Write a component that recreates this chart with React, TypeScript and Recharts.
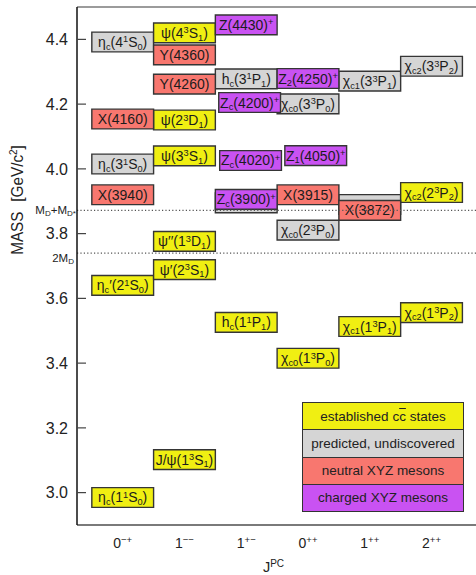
import React from 'react';
import { ComposedChart, XAxis, YAxis, ReferenceArea, ReferenceLine, Legend } from 'recharts';

const FONT = "'Liberation Sans', Arial, Helvetica, sans-serif";

// ---------- data ----------
const jpcCategories = ['0-+', '1--', '1+-', '0++', '1++', '2++'];
const jpcSpin = ['0', '1', '1', '0', '1', '2'];
const jpcPC = ['\u2212+', '\u2212\u2212', '+\u2212', '++', '++', '++'];
const massTicks = [3.0, 3.2, 3.4, 3.6, 3.8, 4.0, 4.2, 4.4];
const massRange = [2.9, 4.5];

const thresholds = [
  { name: 'M_D+M_{D*}', mass: 3.872 },
  { name: '2M_D', mass: 3.74 },
];

type State = { name: string; jpc: string; mass: number; show?: boolean };

const predictedStates: State[] = [
  { name: '\u03b7_c(3^1S_0)', jpc: '0-+', mass: 4.015 },
  { name: '\u03b7_c(4^1S_0)', jpc: '0-+', mass: 4.392 },
  { name: 'h_c(2^1P_1)', jpc: '1+-', mass: 3.895, show: false },
  { name: 'h_c(3^1P_1)', jpc: '1+-', mass: 4.278 },
  { name: '\u03c7_{c0}(2^3P_0)', jpc: '0++', mass: 3.811 },
  { name: '\u03c7_{c0}(3^3P_0)', jpc: '0++', mass: 4.201 },
  { name: '\u03c7_{c1}(2^3P_1)', jpc: '1++', mass: 3.89, show: false },
  { name: '\u03c7_{c1}(3^3P_1)', jpc: '1++', mass: 4.271 },
  { name: '\u03c7_{c2}(3^3P_2)', jpc: '2++', mass: 4.317 },
];

const establishedStates: State[] = [
  { name: '\u03b7_c(1^1S_0)', jpc: '0-+', mass: 2.985 },
  { name: '\u03b7_c\u2032(2^1S_0)', jpc: '0-+', mass: 3.64 },
  { name: 'J/\u03c8(1^3S_1)', jpc: '1--', mass: 3.102 },
  { name: '\u03c8\u2032(2^3S_1)', jpc: '1--', mass: 3.689 },
  { name: '\u03c8\u2032\u2032(1^3D_1)', jpc: '1--', mass: 3.776 },
  { name: '\u03c8(3^3S_1)', jpc: '1--', mass: 4.04 },
  { name: '\u03c8(2^3D_1)', jpc: '1--', mass: 4.151 },
  { name: '\u03c8(4^3S_1)', jpc: '1--', mass: 4.42 },
  { name: 'h_c(1^1P_1)', jpc: '1+-', mass: 3.526 },
  { name: '\u03c7_{c0}(1^3P_0)', jpc: '0++', mass: 3.415 },
  { name: '\u03c7_{c1}(1^3P_1)', jpc: '1++', mass: 3.513 },
  { name: '\u03c7_{c2}(1^3P_2)', jpc: '2++', mass: 3.556 },
  { name: '\u03c7_{c2}(2^3P_2)', jpc: '2++', mass: 3.927 },
];

const neutralXYZ: State[] = [
  { name: 'X(3940)', jpc: '0-+', mass: 3.92 },
  { name: 'X(4160)', jpc: '0-+', mass: 4.154 },
  { name: 'Y(4260)', jpc: '1--', mass: 4.262 },
  { name: 'Y(4360)', jpc: '1--', mass: 4.352 },
  { name: 'X(3915)', jpc: '0++', mass: 3.92 },
  { name: 'X(3872)', jpc: '1++', mass: 3.872 },
];

const chargedXYZ: State[] = [
  { name: 'Z_c(3900)^+', jpc: '1+-', mass: 3.906 },
  { name: 'Z_c(4020)^+', jpc: '1+-', mass: 4.026 },
  { name: 'Z_c(4200)^+', jpc: '1+-', mass: 4.205 },
  { name: 'Z(4430)^+', jpc: '1+-', mass: 4.445 },
  { name: 'Z_1(4050)^+', jpc: '0++', mass: 4.041 },
  { name: 'Z_2(4250)^+', jpc: '0++', mass: 4.279 },
];

const legendLabels = ['established cc\u0304 states', 'predicted, undiscovered', 'neutral XYZ mesons', 'charged XYZ mesons'];

// ---------- layout / style ----------
const COLORS = {
  established: '#f0ef12',
  predicted: '#d5d5d5',
  neutral: '#f8776f',
  charged: '#c952f2',
};
const legendColors = [COLORS.established, COLORS.predicted, COLORS.neutral, COLORS.charged];
const BOX_HALF = 0.0305;
const nudges: Record<string, number> = {
  'Z_c(4020)^+': 0.07,
  'Z_c(4200)^+': 0.055,
  'Z_1(4050)^+': 0.125,
};
const thresholdLabelPos: Record<string, { dx: number; dy: number }> = {
  'M_D+M_{D*}': { dx: -1, dy: 3.5 },
  '2M_D': { dx: -3, dy: 8.5 },
};

// ---------- rich text ----------
type Seg = { t: string; k: 'n' | 'sub' | 'sup' };
function parseMarkup(s: string): Seg[] {
  const out: Seg[] = [];
  let buf = '';
  let i = 0;
  while (i < s.length) {
    const ch = s[i];
    if (ch === '_' || ch === '^') {
      if (buf) { out.push({ t: buf, k: 'n' }); buf = ''; }
      let grp = '';
      if (s[i + 1] === '{') {
        const j = s.indexOf('}', i + 2);
        grp = s.slice(i + 2, j);
        i = j + 1;
      } else {
        grp = s[i + 1];
        i += 2;
      }
      out.push({ t: grp, k: ch === '_' ? 'sub' : 'sup' });
    } else {
      buf += ch;
      i++;
    }
  }
  if (buf) out.push({ t: buf, k: 'n' });
  return out;
}

function RichText({ x, y, text, size, anchor = 'middle', fill = '#1c1c1c', scale = 0.66 }: any) {
  const segs = parseMarkup(text);
  let cur = 0;
  return (
    <text x={x} y={y} textAnchor={anchor} fontSize={size} fill={fill} fontFamily={FONT}>
      {segs.map((s, i) => {
        const target = s.k === 'sub' ? size * 0.2 : s.k === 'sup' ? -size * 0.32 : 0;
        const dy = target - cur;
        cur = target;
        return (
          <tspan key={i} dy={dy} fontSize={s.k === 'n' ? size : size * scale}>
            {s.t}
          </tspan>
        );
      })}
    </text>
  );
}

const BoxLabel = (props: any) => {
  const vb = props.viewBox;
  if (!vb || !props.txt) return null;
  return <RichText x={vb.x + vb.width / 2} y={vb.y + vb.height / 2 + 5} text={props.txt} size={14} />;
};

const ThresholdLabel = (props: any) => {
  const vb = props.viewBox;
  if (!vb) return null;
  const p = thresholdLabelPos[props.txt] || { dx: -2, dy: 4 };
  return <RichText x={vb.x + p.dx} y={vb.y + p.dy} text={props.txt} size={11.5} anchor="end" fill="#222" scale={0.7} />;
};

const YTick = (props: any) => {
  const { x, y, payload } = props;
  return (
    <g>
      <text x={x} y={y} dy="0.36em" textAnchor="end" fontSize={16} fill="#222" fontFamily={FONT}>
        {Number(payload.value).toFixed(1)}
      </text>
      <line x1={x + 9} x2={x + 18} y1={y} y2={y} stroke="#444" strokeWidth={1.2} />
    </g>
  );
};

const XTick = (props: any) => {
  const { x, y, payload } = props;
  const i = Number(payload.value);
  return (
    <text x={x} y={y + 23} textAnchor="middle" fontSize={14} fill="#222" fontFamily={FONT}>
      <tspan>{jpcSpin[i]}</tspan>
      <tspan dy={-5} fontSize={9.5}>{jpcPC[i]}</tspan>
    </text>
  );
};

const XTitle = (props: any) => {
  const vb = props.viewBox;
  if (!vb) return null;
  return (
    <text x={vb.x + vb.width / 2 - 3} y={vb.y + 47} textAnchor="middle" fontSize={14.5} fill="#222" fontFamily={FONT}>
      <tspan>J</tspan>
      <tspan dy={-5} fontSize={10}>PC</tspan>
    </text>
  );
};

const YTitle = () => (
  <g transform="translate(16.5,200) rotate(-90) scale(0.9,1)">
    <text x={0} y={0} dy="0.36em" textAnchor="middle" fontSize={17} fill="#222" fontFamily={FONT}>
      <tspan>MASS</tspan>
      <tspan dx={11}>[GeV/c</tspan>
      <tspan dy={-6} fontSize={11}>2</tspan>
      <tspan dy={6}>]</tspan>
    </text>
  </g>
);

const LegendBox = () => (
  <div
    style={{
      width: 162,
      height: 110,
      boxSizing: 'border-box',
      border: '1.5px solid #333',
      display: 'flex',
      flexDirection: 'column',
      fontFamily: FONT,
      fontSize: 13.5,
      color: '#222',
    }}
  >
    {legendLabels.map((t, i) => (
      <div
        key={t}
        style={{
          flex: 1,
          background: legendColors[i],
          borderTop: i > 0 ? '1.5px solid #333' : 'none',
          display: 'flex',
          alignItems: 'center',
          justifyContent: 'center',
          whiteSpace: 'nowrap',
        }}
      >
        {i === 0 ? (
          <span>
            established c<span style={{ textDecoration: 'overline' }}>c</span> states
          </span>
        ) : (
          t
        )}
      </div>
    ))}
  </div>
);

export default function App() {
  const groups = [
    { states: predictedStates, fill: COLORS.predicted },
    { states: establishedStates, fill: COLORS.established },
    { states: neutralXYZ, fill: COLORS.neutral },
    { states: chargedXYZ, fill: COLORS.charged },
  ];
  return (
    <div style={{ position: 'absolute', left: 0, top: 0, width: 476, height: 575, overflow: 'hidden', background: '#fff' }}>
      <ComposedChart width={476} height={575} margin={{ top: 7, right: 0, bottom: 0, left: 0 }} data={[]}>
        <XAxis
          type="number"
          dataKey="x"
          domain={[-0.74, 5.72]}
          ticks={[0, 1, 2, 3, 4, 5]}
          interval={0}
          allowDataOverflow
          tickLine={false}
          tickSize={0}
          tickMargin={0}
          height={50}
          axisLine={{ stroke: '#7a7a7a', strokeWidth: 2 }}
          tick={<XTick />}
          label={<XTitle />}
        />
        <YAxis
          type="number"
          dataKey="y"
          domain={massRange}
          ticks={massTicks}
          interval={0}
          allowDataOverflow
          width={77}
          tickLine={false}
          tickSize={0}
          tickMargin={9}
          axisLine={{ stroke: '#111', strokeWidth: 1.5 }}
          tick={<YTick />}
          label={<YTitle />}
        />
        <ReferenceLine y={4.5} stroke="#7a7a7a" strokeWidth={1.5} ifOverflow="visible" />
        {groups.flatMap((g) =>
          g.states.map((s) => {
            const c = jpcCategories.indexOf(s.jpc) + (nudges[s.name] || 0);
            return (
              <ReferenceArea
                key={s.name}
                x1={c - 0.5}
                x2={c + 0.5}
                y1={s.mass - BOX_HALF}
                y2={s.mass + BOX_HALF}
                fill={g.fill}
                fillOpacity={1}
                stroke="#353535"
                strokeWidth={1.4}
                ifOverflow="visible"
                label={<BoxLabel txt={s.show === false ? '' : s.name} />}
              />
            );
          })
        )}
        {thresholds.map((t) => (
          <ReferenceLine
            key={t.name}
            y={t.mass}
            stroke="#555"
            strokeWidth={1.2}
            strokeDasharray="1.2 2.2"
            label={<ThresholdLabel txt={t.name} />}
          />
        ))}
        <Legend
          layout="vertical"
          align="center"
          verticalAlign="middle"
          content={() => <LegendBox />}
          wrapperStyle={{ left: 302, top: 402, width: 162, height: 110 }}
        />
      </ComposedChart>
    </div>
  );
}
